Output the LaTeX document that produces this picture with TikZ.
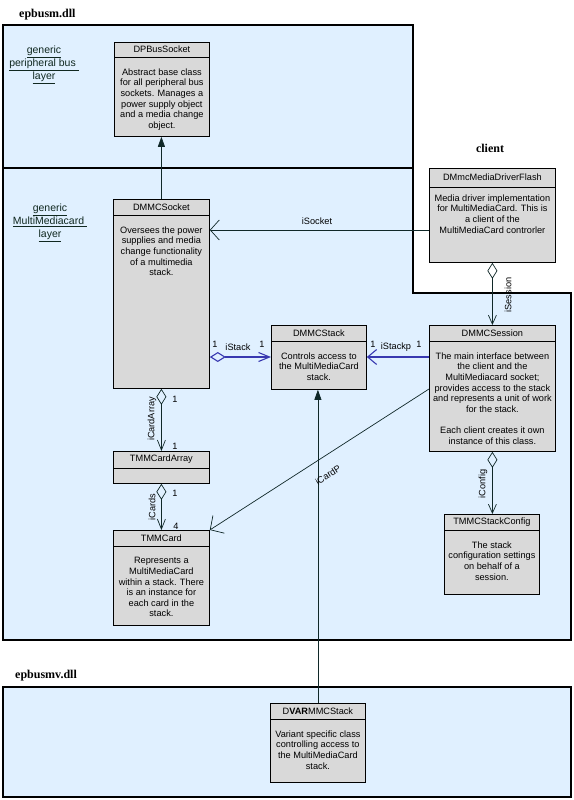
\documentclass[tikz,border=0pt]{standalone}
\usepackage{fontspec}
\usetikzlibrary{arrows.meta}
\newfontfamily\sansf{Liberation Sans}
\newfontfamily\seriff{Liberation Serif}
\newcommand\clsfont{\sansf\fontsize{9.2}{10.6}\selectfont}
\newcommand\pkgfont{\seriff\bfseries\fontsize{12}{14}\selectfont}
\definecolor{pkgblue}{HTML}{E0F0FF}
\definecolor{clsgray}{HTML}{D9D9D9}
\definecolor{linecol}{HTML}{102828}
\definecolor{selblue}{HTML}{3838B0}
\definecolor{lyrcol}{HTML}{102820}
\tikzset{
  pkg/.style={draw=black, line width=2pt, fill=pkgblue},
  cls/.style={draw=black, line width=0.8pt, fill=clsgray, inner sep=0pt, anchor=north west},
  clsline/.style={draw=black, line width=0.8pt},
  ctitle/.style={font=\clsfont, inner sep=0pt, anchor=center},
  cbody/.style={font=\clsfont, align=center, inner sep=0pt, anchor=north},
  conn/.style={draw=linecol, line width=0.7pt},
  selconn/.style={draw=selblue, line width=1.1pt},
  lbl/.style={font=\clsfont, inner sep=0pt, text=black},
  lyr/.style={font=\sansf\fontsize{10.5}{13.2}\selectfont, align=center, inner sep=0pt, text=lyrcol},
  pkglbl/.style={font=\pkgfont, inner sep=0pt},
  gentip/.style={-{Triangle[length=10pt,width=7pt]}},
}
% #1 name, #2 x, #3 y, #4 w, #5 h, #6 header height, #7 title, #8 body, #9 body offset
\newcommand\umlclass[9]{%
  \node[cls, minimum width=#4pt, minimum height=#5pt] (#1) at (#2,-#3) {};
  \draw[clsline] ([yshift=-#6pt]#1.north west) -- ([yshift=-#6pt]#1.north east);
  \node[ctitle] (#1-t) at ([yshift=-#6*0.5pt]#1.north) {#7};
  \node[cbody] (#1-b) at ([yshift=-#6pt-#9pt+3.6pt]#1.north) {#8};
}
\begin{document}
\begin{tikzpicture}[x=1pt,y=1pt]
\useasboundingbox (0,0) rectangle (573,-800);
% packages
\path[pkg] (3,-25) rectangle (413,-168);
\path[pkg] (3,-168) -- (413,-168) -- (413,-293) -- (571,-293) -- (571,-640) -- (3,-640) -- cycle;
\path[pkg] (3,-687) rectangle (571,-797);
\node[pkglbl, anchor=west] (p1) at (19,-15) {epbusm.dll};
\node[pkglbl] (p2) at (490,-148) {client};
\node[pkglbl, anchor=west] (p3) at (15,-676) {epbusmv.dll};
\node[lyr] (l1) at (44,-65) {\underline{generic}\\\underline{peripheral bus\ }\\\underline{layer}};
\node[lyr] (l2) at (50,-223) {\underline{generic}\\\underline{MultiMediacard\ }\\\underline{layer}};
% classes
\umlclass{bus}{114}{42}{95}{94}{15}{DPBusSocket}{Abstract base class\\for all peripheral bus\\sockets. Manages a\\power supply object\\and a media change\\object.}{15}
\umlclass{sock}{113}{199}{96}{189}{16}{DMMCSocket}{Oversees the power\\supplies and media\\change functionality\\of a multimedia\\stack.}{15}
\umlclass{stack}{271}{325}{95}{64}{16}{DMMCStack}{Controls access to\\the MultiMediaCard\\stack.}{15}
\umlclass{sess}{429}{325}{126}{126}{16}{DMMCSession}{The main interface between\\the client and the\\MultiMediacard socket;\\provides access to the stack\\and represents a unit of work\\for the stack.\\[10.6pt]Each client creates it own\\instance of this class.}{15}
\umlclass{flash}{429}{168}{126}{94}{19}{DMmcMediaDriverFlash}{Media driver implementation\\for MultiMediaCard. This is\\a client of the\\MultiMediaCard controrler}{11}
\umlclass{arr}{113}{451}{96}{32}{17}{TMMCardArray}{}{15}
\umlclass{card}{113}{530}{96}{95}{16}{TMMCard}{Represents a\\MultiMediaCard\\within a stack. There\\is an instance for\\each card in the\\stack.}{15}
\umlclass{cfg}{444}{514}{95}{80}{16}{TMMCStackConfig}{The stack\\configuration settings\\on behalf of a\\session.}{15}
\umlclass{var}{270}{703}{95}{79}{16}{D\textbf{VAR}MMCStack}{Variant specific class\\controlling access to\\the MultiMediaCard\\stack.}{15}
% connectors
\draw[conn, gentip] (sock.north) -- (sock.north |- bus.south);
\draw[conn, -{Straight Barb[length=9pt,width=20pt]}] (flash.west |- 0,-230) -- (sock.east |- 0,-230);
\draw[selconn, {Diamond[open,length=16pt,width=10pt]}-{Straight Barb[length=11pt,width=9pt]}] (sock.east |- 0,-357) -- (stack.west |- 0,-357);
\draw[selconn, -{Straight Barb[length=9pt,width=15pt]}] (sess.west |- 0,-357) -- (stack.east |- 0,-357);
\draw[conn, {Diamond[open,length=16pt,width=10pt]}-{Straight Barb[length=9pt,width=8pt]}] (flash.south) -- (sess.north);
\draw[conn, {Diamond[open,length=16pt,width=10pt]}-{Straight Barb[length=9pt,width=8pt]}] (sess.south) -- (sess.south |- cfg.north);
\draw[conn, {Diamond[open,length=16pt,width=10pt]}-{Straight Barb[length=10pt,width=8pt]}] (sock.south) -- (arr.north);
\draw[conn, {Diamond[open,length=16pt,width=10pt]}-{Straight Barb[length=10pt,width=8pt]}] (arr.south) -- (card.north);
\draw[conn, -{Straight Barb[length=10pt,width=21pt]}] (sess.west |- 0,-389) -- (card.north east);
\draw[conn, gentip] (var.north) -- (var.north |- stack.south);
% labels
\node[lbl] (isock) at (317,-221) {iSocket};
\node[lbl] (m1) at (215,-344) {1};
\node[lbl] (istk) at (238,-347) {iStack};
\node[lbl] (m2) at (262,-344) {1};
\node[lbl] (m3) at (373,-344) {1};
\node[lbl] (istkp) at (396,-347) {iStackp};
\node[lbl] (m4) at (419,-344) {1};
\node[lbl, rotate=90] (isess) at (508,-295) {iSession};
\node[lbl] (m5) at (175,-399) {1};
\node[lbl, rotate=90] (icarr) at (152,-419) {iCardArray};
\node[lbl] (m6) at (175,-446) {1};
\node[lbl] (m7) at (175,-493) {1};
\node[lbl, rotate=90] (icards) at (152,-507) {iCards};
\node[lbl] (m8) at (176,-526) {4};
\node[lbl, rotate=90] (icfg) at (483,-484) {iConfig};
\node[lbl, rotate=33] (icp) at (328,-475) {iCardP};
\end{tikzpicture}
\end{document}
